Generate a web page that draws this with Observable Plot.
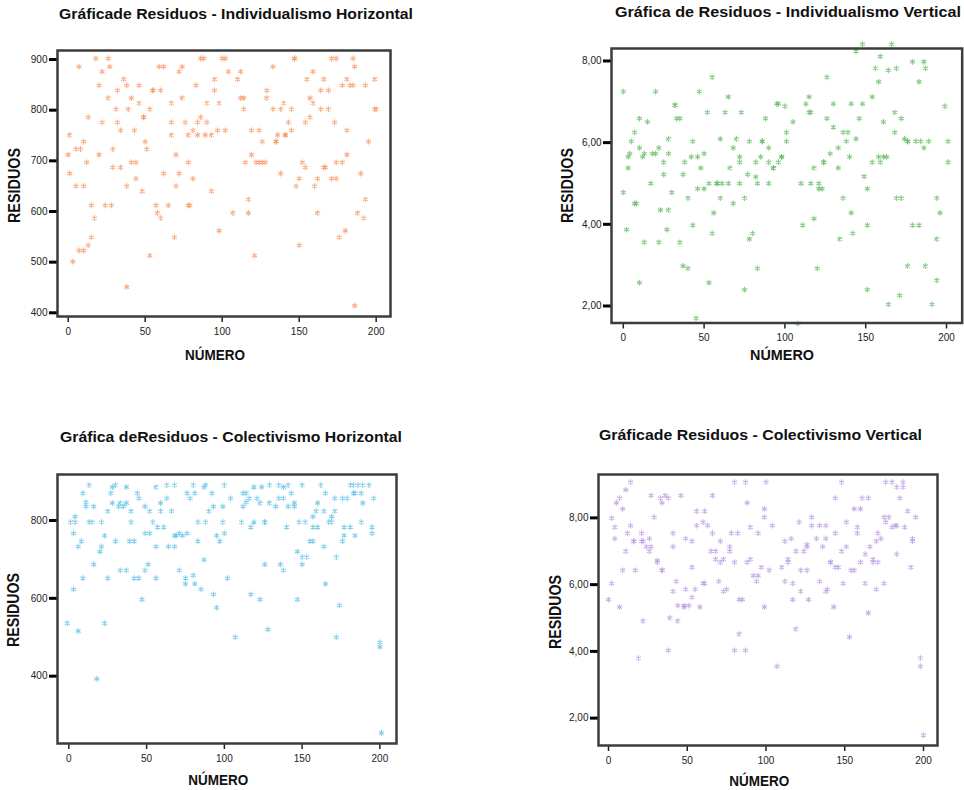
<!DOCTYPE html>
<html><head><meta charset="utf-8">
<script src="https://cdn.jsdelivr.net/npm/d3@7"></script>
<script src="https://cdn.jsdelivr.net/npm/@observablehq/plot@0.6"></script>
<style>
html,body{margin:0;padding:0;background:#fff;width:964px;height:790px;overflow:hidden;font-family:"Liberation Sans",Arial,sans-serif}
svg.panel{position:absolute;overflow:visible}
#overlay{position:absolute;left:0;top:0}
</style></head><body>
<svg id="overlay" width="964" height="790"></svg>
<script>
// ---- data: [caso (NÚMERO), residuo] ----
const individualismoHorizontal = [[0,712],[1,751],[1,675],[3,501],[5,650],[5,723],[7,886],[7,523],[8,723],[10,523],[10,650],[10,738],[12,697],[13,533],[13,786],[15,549],[15,612],[17,587],[18,902],[20,712],[20,849],[22,876],[22,776],[24,612],[26,902],[26,824],[27,886],[28,612],[29,723],[29,687],[31,802],[32,839],[32,776],[34,760],[34,687],[36,861],[38,849],[38,650],[38,451],[39,802],[41,824],[41,697],[43,760],[44,697],[44,665],[46,849],[46,814],[48,640],[49,786],[49,786],[50,738],[51,723],[53,802],[53,513],[55,839],[55,839],[57,612],[58,597],[59,886],[60,587],[60,839],[62,675],[62,886],[65,612],[67,776],[67,814],[67,751],[69,549],[70,650],[70,712],[72,876],[72,675],[74,886],[74,824],[76,776],[78,751],[78,697],[78,612],[79,612],[81,665],[81,760],[83,849],[84,776],[84,751],[86,786],[86,902],[88,902],[89,751],[90,814],[90,776],[93,751],[93,640],[95,861],[95,839],[97,760],[98,814],[98,562],[100,902],[102,902],[102,760],[104,876],[107,597],[110,861],[112,876],[112,824],[114,824],[114,802],[115,697],[117,624],[117,597],[119,760],[119,712],[121,513],[122,697],[124,697],[126,697],[128,697],[124,760],[126,738],[129,839],[129,824],[133,886],[133,802],[135,738],[135,738],[136,751],[138,675],[138,802],[140,814],[141,751],[141,751],[143,776],[145,802],[145,760],[147,902],[147,902],[148,650],[150,665],[150,533],[152,697],[154,687],[154,776],[155,861],[157,824],[157,786],[159,814],[159,876],[160,650],[162,665],[162,597],[164,839],[164,802],[166,861],[166,687],[167,687],[169,839],[169,802],[171,902],[171,665],[173,776],[174,902],[174,697],[174,665],[176,549],[178,849],[178,697],[180,562],[181,861],[181,760],[181,712],[183,849],[185,849],[185,902],[186,886],[186,414],[188,597],[190,675],[192,587],[193,849],[193,624],[195,738],[199,861],[199,802],[200,802]];

const individualismoVertical = [[0,7.25],[0,4.78],[2,3.87],[3,5.65],[3,5.38],[4,5.73],[5,6.03],[7,6.25],[7,4.51],[8,4.51],[10,6.59],[10,5.87],[10,2.57],[12,5.65],[13,5.73],[13,3.56],[15,6.51],[17,5.0],[18,5.73],[20,5.73],[20,7.25],[22,5.87],[22,3.56],[23,4.35],[25,5.52],[25,5.22],[27,3.87],[28,6.09],[28,5.73],[28,4.35],[30,4.78],[32,6.92],[32,6.92],[33,6.59],[35,6.59],[35,3.56],[37,5.22],[37,2.98],[38,5.52],[40,4.64],[40,2.92],[42,5.65],[43,6.03],[43,3.98],[45,1.70],[46,5.65],[46,4.87],[47,7.25],[48,5.38],[50,5.73],[50,4.87],[52,6.74],[53,5.0],[53,2.57],[55,7.6],[55,3.78],[56,4.28],[58,5.0],[58,5.0],[60,6.09],[60,4.64],[61,5.0],[63,6.74],[65,7.12],[65,5.0],[66,5.38],[68,5.87],[68,4.51],[70,6.09],[72,5.65],[72,5.52],[72,5.0],[73,6.74],[75,4.64],[75,2.4],[77,5.22],[78,6.03],[78,3.64],[80,3.78],[82,5.52],[82,5.16],[83,5.0],[83,2.92],[85,5.65],[86,6.03],[86,6.03],[88,6.59],[90,5.87],[90,5.52],[90,5.0],[93,5.38],[93,5.38],[95,6.95],[96,6.95],[96,5.52],[98,5.65],[98,5.65],[100,6.89],[101,6.25],[101,6.03],[105,6.51],[108,1.57],[110,5.0],[111,3.98],[113,6.95],[115,7.12],[115,6.74],[116,6.74],[116,5.0],[118,5.38],[118,4.14],[120,2.92],[121,5.0],[121,4.87],[123,4.87],[124,5.52],[124,5.52],[126,7.6],[126,6.59],[128,5.73],[130,6.95],[130,6.38],[133,5.87],[133,5.38],[134,3.64],[136,6.25],[136,4.64],[138,6.03],[139,6.25],[140,5.65],[141,6.95],[141,4.28],[142,3.78],[144,6.09],[144,8.24],[146,6.59],[148,8.41],[148,6.95],[149,5.17],[151,4.87],[151,3.98],[151,2.4],[154,5.52],[154,7.12],[156,7.82],[158,7.49],[158,5.65],[159,8.11],[159,5.52],[161,6.51],[161,5.65],[163,5.65],[164,7.77],[164,2.04],[166,8.41],[168,6.74],[168,6.25],[169,7.82],[169,4.64],[171,2.26],[172,6.59],[172,4.64],[174,6.09],[176,6.03],[176,6.03],[176,2.98],[179,7.98],[179,3.98],[181,6.03],[183,7.49],[183,3.98],[184,6.03],[186,7.98],[186,5.87],[187,7.82],[187,2.98],[189,6.03],[191,2.04],[194,3.64],[194,2.63],[194,4.64],[196,4.28],[199,6.89],[201,6.03],[201,5.52]];

const colectivismoHorizontal = [[-1,536],[1,796],[3,623],[3,767],[4,810],[4,796],[6,516],[6,733],[8,747],[9,870],[9,652],[11,847],[11,836],[13,891],[13,796],[15,796],[16,836],[16,687],[18,393],[20,720],[21,733],[21,796],[23,761],[23,536],[25,824],[25,652],[27,870],[28,845],[28,886],[30,891],[30,747],[32,836],[33,845],[35,836],[37,845],[33,672],[37,672],[37,886],[39,747],[40,796],[40,824],[42,747],[42,652],[44,870],[45,857],[45,652],[47,597],[49,836],[49,767],[49,672],[51,687],[52,767],[52,824],[54,796],[56,886],[56,733],[56,652],[57,783],[59,824],[59,845],[61,783],[63,891],[63,857],[64,733],[66,824],[68,891],[68,761],[69,761],[71,767],[73,761],[68,733],[71,672],[75,652],[75,637],[76,870],[76,767],[78,857],[80,891],[80,659],[81,870],[81,637],[83,796],[83,747],[85,623],[87,699],[87,886],[88,891],[88,796],[90,824],[92,870],[93,836],[93,610],[95,761],[95,576],[97,747],[99,836],[99,796],[100,891],[100,767],[102,652],[104,857],[107,500],[111,796],[112,870],[114,870],[112,836],[114,847],[116,857],[117,783],[117,610],[119,886],[119,796],[121,857],[123,845],[123,597],[124,886],[126,796],[126,796],[126,687],[128,520],[129,891],[129,845],[133,836],[135,891],[135,857],[136,687],[138,672],[138,886],[138,857],[140,783],[141,891],[141,836],[143,870],[145,845],[145,836],[147,720],[147,597],[148,796],[150,891],[150,706],[150,687],[152,796],[153,706],[155,747],[157,747],[157,810],[157,783],[159,824],[160,845],[160,783],[162,891],[164,824],[164,733],[165,870],[165,637],[167,796],[169,796],[169,810],[171,824],[171,857],[172,706],[172,500],[174,582],[176,857],[176,747],[177,783],[177,761],[179,857],[181,891],[183,891],[181,783],[183,870],[184,870],[184,761],[186,891],[188,870],[188,796],[189,891],[189,845],[193,891],[195,783],[195,767],[196,857],[200,487],[200,475],[201,254]];

const colectivismoVertical = [[0,5.55],[2,7.99],[2,6.04],[4,7.72],[4,7.38],[5,8.45],[7,8.59],[7,5.33],[9,8.27],[9,6.43],[11,8.84],[11,7.0],[12,7.54],[14,9.07],[14,7.77],[16,7.3],[16,7.3],[17,6.43],[19,3.8],[21,7.54],[21,7.3],[22,7.3],[22,4.91],[24,7.14],[26,7.38],[26,7.0],[27,7.14],[27,8.67],[29,8.02],[31,6.72],[31,6.67],[33,8.59],[34,8.45],[34,6.43],[34,6.43],[36,8.67],[38,8.59],[38,4.03],[39,5.0],[41,5.8],[41,7.54],[41,7.14],[43,6.1],[44,5.37],[44,4.91],[46,8.67],[48,5.33],[48,5.37],[49,7.38],[49,5.86],[51,5.37],[53,7.3],[53,6.52],[53,5.62],[55,5.86],[56,8.2],[56,7.77],[58,5.33],[60,7.87],[60,6.04],[61,6.04],[61,8.2],[63,7.77],[65,7.0],[66,7.54],[66,8.67],[68,7.0],[68,6.76],[70,6.1],[71,7.3],[71,6.67],[73,6.76],[73,5.8],[75,5.86],[77,7.0],[77,7.14],[78,7.54],[80,9.07],[80,6.67],[80,4.03],[82,7.54],[83,5.55],[85,5.55],[83,4.52],[87,9.07],[87,4.03],[88,8.45],[88,6.67],[90,6.76],[90,7.72],[92,6.27],[94,6.1],[95,7.54],[95,6.27],[97,6.52],[99,8.27],[99,8.02],[99,5.33],[100,9.07],[102,6.43],[104,7.77],[107,3.55],[110,6.52],[112,7.3],[112,6.1],[114,6.76],[114,6.67],[116,7.38],[117,6.04],[117,5.55],[119,7.0],[119,4.67],[121,7.87],[122,6.43],[122,5.8],[124,7.0],[126,7.14],[126,7.2],[126,6.43],[127,5.55],[129,8.02],[129,7.77],[132,7.38],[134,7.77],[134,6.1],[136,7.14],[138,7.77],[138,7.38],[138,5.8],[139,5.86],[141,6.67],[141,6.67],[143,5.33],[144,7.54],[144,8.59],[144,6.52],[146,6.52],[148,9.07],[148,7.0],[149,6.04],[151,7.87],[151,7.14],[153,4.43],[154,6.43],[156,6.43],[156,8.27],[158,7.54],[158,7.72],[160,6.67],[160,8.27],[161,8.59],[163,6.04],[163,6.91],[165,8.59],[165,5.15],[166,7.14],[168,6.76],[168,6.67],[170,7.3],[170,5.86],[171,7.54],[171,6.67],[173,7.38],[175,8.02],[175,6.04],[176,9.07],[180,9.07],[176,7.87],[178,8.02],[180,7.72],[182,7.77],[183,7.77],[183,8.92],[183,6.91],[185,8.59],[187,9.07],[187,8.92],[188,7.72],[190,8.2],[192,6.52],[193,7.38],[193,7.3],[195,8.02],[198,3.8],[198,3.55],[200,1.49]];

// ---- tick values and labels ----
const xTicks = [0, 50, 100, 150, 200];
const ihYTicks = [400, 500, 600, 700, 800, 900];
const ihYLabels = ["400", "500", "600", "700", "800", "900"];
const ivYTicks = [2, 4, 6, 8];
const ivYLabels = ["2,00", "4,00", "6,00", "8,00"];
const chYTicks = [400, 600, 800];
const chYLabels = ["400", "600", "800"];
const cvYTicks = [2, 4, 6, 8];
const cvYLabels = ["2,00", "4,00", "6,00", "8,00"];

const titles = [
  "Gráficade Residuos - Individualismo Horizontal",
  "Gráfica de Residuos - Individualismo Vertical",
  "Gráfica deResiduos - Colectivismo Horizontal",
  "Gráficade Residuos - Colectivismo Vertical"
];
const yTitle = "RESIDUOS";
const xTitle = "NÚMERO";

// ---- layout ----
const panels = [
  {data: individualismoHorizontal, color: "#f7905a", frame: [57, 390, 50, 316], xd: [-6.95, 209.3], yd: [392.7, 917.8], yTicks: ihYTicks, yLabels: ihYLabels,
   title: {x0: 59, x1: 413, base: 18.5}, yt: {x: 20, y: 185.5, w: 75}, xt: {x: 215, y: 360, w: 60}},
  {data: individualismoVertical, color: "#5cb85c", frame: [611.3, 962, 47.5, 322], xd: [-7.3, 209.7], yd: [1.584, 8.305], yTicks: ivYTicks, yLabels: ivYLabels,
   title: {x0: 615, x1: 961, base: 16.8}, yt: {x: 573.3, y: 185.5, w: 75}, xt: {x: 782, y: 360, w: 64}},
  {data: colectivismoHorizontal, color: "#58bfe3", frame: [57, 396, 474, 743], xd: [-7.3, 210.7], yd: [227, 918.2], yTicks: chYTicks, yLabels: chYLabels,
   title: {x0: 60, x1: 402, base: 441.7}, yt: {x: 19.3, y: 610, w: 74}, xt: {x: 218.3, y: 785, w: 60}},
  {data: colectivismoVertical, color: "#b595e0", frame: [597.7, 936.7, 474, 745], xd: [-6.35, 208.9], yd: [1.18, 9.30], yTicks: cvYTicks, yLabels: cvYLabels,
   title: {x0: 599, x1: 922, base: 440}, yt: {x: 560.7, y: 612, w: 74}, xt: {x: 759.3, y: 785.5, w: 60}}
];

const ml = 55, mt = 10, mr = 3, mb = 40;
const hasAxis = typeof Plot.axisX === "function";

panels.forEach((p, i) => {
  const [fl, fr, ft, fb] = p.frame;
  const W = fr - fl + ml + mr, H = fb - ft + mt + mb;
  const lab = new Map(p.yTicks.map((t, k) => [t, p.yLabels[k]]));
  const marks = [
    Plot.dot(p.data, {x: d => d[0], y: d => d[1], symbol: "asterisk", r: 2.7, stroke: p.color, strokeWidth: 1.1, strokeOpacity: 0.75})
  ];
  if (hasAxis) {
    marks.push(Plot.axisX({ticks: xTicks, tickFormat: d => String(d), tickSize: 6, tickPadding: 5, label: null, stroke: "#222", strokeWidth: 1.5}));
    marks.push(Plot.axisY({ticks: p.yTicks, tickFormat: d => lab.get(d), tickSize: 8, tickPadding: 2, label: null, stroke: "#000", strokeWidth: 3}));
  }
  marks.push(Plot.frame({stroke: "#3c3c3c", strokeWidth: 2.5}));
  const chart = Plot.plot({
    width: W, height: H, marginLeft: ml, marginRight: mr, marginTop: mt, marginBottom: mb,
    x: {domain: p.xd, ...(hasAxis ? {axis: null} : {ticks: xTicks, tickSize: 6, tickPadding: 5, label: null, tickFormat: d => String(d)})},
    y: {domain: p.yd, ...(hasAxis ? {axis: null} : {ticks: p.yTicks, tickSize: 8, tickPadding: 2, label: null, tickFormat: d => lab.get(d)})},
    style: {fontFamily: "'Liberation Sans', Arial, sans-serif", fontSize: "10px", color: "#222", background: "transparent", overflow: "visible"},
    marks
  });
  chart.classList.add("panel");
  chart.style.left = (fl - ml) + "px";
  chart.style.top = (ft - mt) + "px";
  document.body.appendChild(chart);
});

// titles and axis labels as real text
const ov = d3.select("#overlay");
panels.forEach((p, i) => {
  ov.append("text").attr("x", p.title.x0).attr("y", p.title.base)
    .attr("textLength", p.title.x1 - p.title.x0).attr("lengthAdjust", "spacingAndGlyphs")
    .attr("font-family", "'Liberation Sans', Arial, sans-serif").attr("font-weight", "bold").attr("font-size", 15)
    .attr("fill", "#111").text(titles[i]);
  ov.append("text").attr("transform", `translate(${p.yt.x},${p.yt.y}) rotate(-90)`)
    .attr("text-anchor", "middle").attr("textLength", p.yt.w).attr("lengthAdjust", "spacingAndGlyphs")
    .attr("font-family", "'Liberation Sans', Arial, sans-serif").attr("font-weight", "bold").attr("font-size", 16)
    .attr("fill", "#111").text(yTitle);
  ov.append("text").attr("x", p.xt.x).attr("y", p.xt.y)
    .attr("text-anchor", "middle").attr("textLength", p.xt.w).attr("lengthAdjust", "spacingAndGlyphs")
    .attr("font-family", "'Liberation Sans', Arial, sans-serif").attr("font-weight", "bold").attr("font-size", 14)
    .attr("fill", "#111").text(xTitle);
});
</script>
</body></html>
